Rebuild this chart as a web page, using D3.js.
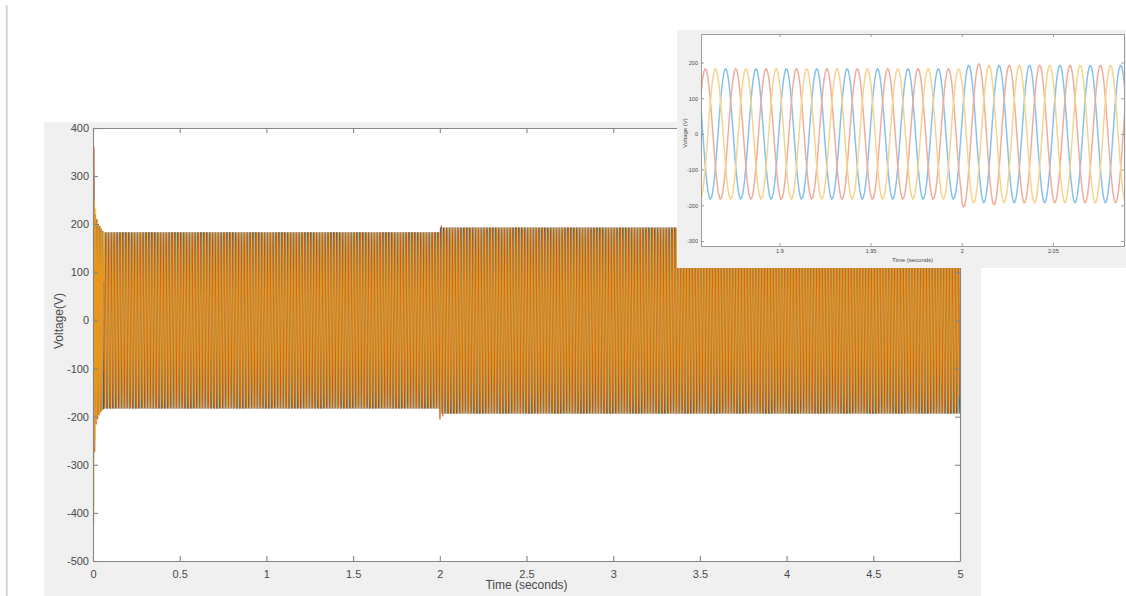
<!DOCTYPE html>
<html><head><meta charset="utf-8">
<script src="https://cdn.jsdelivr.net/npm/d3@7"></script>
<style>
body{margin:0;background:#fff;}
svg{display:block;font-family:"Liberation Sans",Arial,Helvetica,sans-serif;}
</style>
</head><body>
<svg id="chart" width="1126" height="596"></svg>
<script>
// ---------------- data ----------------
const seriesNames = ["Phase A", "Phase B", "Phase C"];
const frequencyHz = 60;
const phasePeakTime = 1.8705;          // a peak of phase A seen in the zoom
const phaseLagDeg = [0, 120, 240];
const amplitudeStartTimes = [0, 2];
const amplitudeValues = [183, 193];
const startupEndTime = 0.062;
const startupTimesA = [0,0.004,0.0085,0.0125,0.017,0.021,0.0255,0.0295,0.034,0.038,0.0425,0.0465,0.051,0.055,0.059];
const startupValuesA = [0,300,-170,215,-200,208,-198,200,-195,195,-190,190,-186,186,-184];
const startupTimesB = [0,0.0055,0.010,0.014,0.0185,0.0225,0.027,0.031,0.0355,0.0395,0.044,0.048,0.0525,0.0565];
const startupValuesB = [0,360,-273,220,-215,210,-205,200,-196,195,-190,189,-186,185];
const startupTimesC = [0,0.0045,0.0085,0.012,0.0155,0.020,0.024,0.0285,0.0325,0.037,0.041,0.0455,0.0495,0.054,0.058];
const startupValuesC = [0,-425,250,-250,232,-210,205,-200,198,-195,193,-190,188,-185,184];
const stepPeakTimesB = [2.0011, 2.0094, 2.0178];
const stepPeakValuesB = [-205, 197, -199];
const mainTimeTicks = [0,0.5,1,1.5,2,2.5,3,3.5,4,4.5,5];
const mainVoltTicks = [400,300,200,100,0,-100,-200,-300,-400,-500];
const insetTimeTicks = [1.9,1.95,2,2.05];
const insetVoltTicks = [200,100,0,-100,-200,-300];
const mainTimeDomain = [0,5];
const mainVoltDomain = [-500,400];
const insetTimeDomain = [1.857,2.089];
const insetVoltDomain = [-314,280];

// ---------------- build series ----------------
const startupT = [startupTimesA, startupTimesB, startupTimesC];
const startupV = [startupValuesA, startupValuesB, startupValuesC];
function amplitudeAt(t){
  let a = amplitudeValues[0];
  amplitudeStartTimes.forEach((s,i)=>{ if (t >= s) a = amplitudeValues[i]; });
  return a;
}
const samplesPerCycle = 24;
const dt = 1/(frequencyHz*samplesPerCycle);
const series = seriesNames.map((name, p) => {
  const pts = startupT[p].map((t,i)=>({t, v: startupV[p][i]}));
  for (let t = startupEndTime; t <= mainTimeDomain[1] + 1e-9; t += dt) {
    let a = amplitudeAt(t);
    if (p === 1 && t >= 2 && t < 2.022) {
      let best = 0;
      stepPeakTimesB.forEach((pt,i)=>{ if (Math.abs(t-pt) < Math.abs(t-stepPeakTimesB[best])) best = i; });
      a = Math.abs(stepPeakValuesB[best]);
    }
    const th = 2*Math.PI*frequencyHz*(t - phasePeakTime) - phaseLagDeg[p]*Math.PI/180;
    pts.push({t, v: a*Math.cos(th)});
  }
  return {name, pts};
});

// ---------------- drawing ----------------
const svg = d3.select("#chart");
svg.append("rect").attr("width",1126).attr("height",596).attr("fill","#fff");
svg.append("line").attr("x1",6.7).attr("x2",6.7).attr("y1",5).attr("y2",596)
  .attr("stroke","#cccccc").attr("stroke-width",1.6);

const axisColor = "#858585", textColor = "#4a4a4a";

function drawPanel(cfg){
  const g = svg.append("g");
  g.append("rect").attr("x",cfg.panel[0]).attr("y",cfg.panel[1]).attr("width",cfg.panel[2]).attr("height",cfg.panel[3]).attr("fill","#f0f0f0");
  const x = d3.scaleLinear().domain(cfg.xDomain).range([cfg.left, cfg.right]);
  const y = d3.scaleLinear().domain(cfg.yDomain).range([cfg.bottom, cfg.top]);
  g.append("rect").attr("x",cfg.left).attr("y",cfg.top).attr("width",cfg.right-cfg.left).attr("height",cfg.bottom-cfg.top).attr("fill","#fff");
  const clipId = "clip"+cfg.id;
  g.append("clipPath").attr("id",clipId).append("rect")
    .attr("x",cfg.left).attr("y",cfg.top).attr("width",cfg.right-cfg.left).attr("height",cfg.bottom-cfg.top);
  const line = d3.line().x(d=>x(d.t)).y(d=>y(d.v));
  const lg = g.append("g").attr("clip-path",`url(#${clipId})`);
  series.forEach((s,i)=>{
    const pts = s.pts.filter(d => d.t >= cfg.xDomain[0]-0.01 && d.t <= cfg.xDomain[1]+0.01);
    lg.append("path").datum(pts).attr("d",line).attr("fill","none")
      .attr("stroke",cfg.colors[i]).attr("stroke-width",cfg.lineWidth).attr("stroke-opacity",cfg.opacity[i])
      .attr("stroke-linejoin","round");
  });
  const ts = cfg.tick;
  const ax = [
    {gen:d3.axisBottom(x).tickValues(cfg.xTicks).tickFormat(d=>String(d)).tickSizeInner(-ts).tickSizeOuter(0).tickPadding(cfg.xPad), tr:`translate(0,${cfg.bottom})`},
    {gen:d3.axisTop(x).tickValues(cfg.xTicks).tickFormat("").tickSizeInner(-ts).tickSizeOuter(0), tr:`translate(0,${cfg.top})`},
    {gen:d3.axisLeft(y).tickValues(cfg.yTicks).tickFormat(d=>String(d)).tickSizeInner(-ts).tickSizeOuter(0).tickPadding(cfg.yPad), tr:`translate(${cfg.left},0)`},
    {gen:d3.axisRight(y).tickValues(cfg.yTicks).tickFormat("").tickSizeInner(-ts).tickSizeOuter(0), tr:`translate(${cfg.right},0)`}
  ];
  ax.forEach(a=>{
    const ag = g.append("g").attr("transform",a.tr).call(a.gen);
    ag.select(".domain").attr("stroke",axisColor).attr("stroke-width",cfg.axisWidth);
    ag.selectAll(".tick line").attr("stroke",axisColor).attr("stroke-width",cfg.axisWidth);
    ag.selectAll(".tick text").attr("fill",textColor).attr("font-size",cfg.fontSize)
      .attr("font-family","'Liberation Sans',Arial,sans-serif");
  });
  g.append("text").attr("x",(cfg.left+cfg.right)/2).attr("y",cfg.xLabelY).attr("text-anchor","middle")
    .attr("font-size",cfg.labelSize).attr("fill",textColor).text("Time (seconds)");
  g.append("text").attr("transform",`translate(${cfg.yLabelX},${cfg.yLabelY}) rotate(-90)`).attr("text-anchor","middle")
    .attr("font-size",cfg.labelSize).attr("fill",textColor).text(cfg.yLabel);
}

drawPanel({id:"main", panel:[44,122,937,474], left:93, right:960, top:128, bottom:561,
  xDomain:mainTimeDomain, yDomain:mainVoltDomain, xTicks:mainTimeTicks, yTicks:mainVoltTicks,
  colors:["#0072BD","#D95319","#EDB120"], lineWidth:1.1, opacity:[1,1,0.72], tick:5, axisWidth:1.1,
  fontSize:11, labelSize:12, xPad:9, yPad:4, xLabelY:589, yLabelX:62.5, yLabelY:321, yLabel:"Voltage(V)"});

drawPanel({id:"inset", panel:[677,30,449,238], left:701, right:1124, top:34, bottom:246,
  xDomain:insetTimeDomain, yDomain:insetVoltDomain, xTicks:insetTimeTicks, yTicks:insetVoltTicks,
  colors:["#86c2ec","#f1ad9b","#f6d48d"], lineWidth:1.5, opacity:[1,1,1], tick:3, axisWidth:0.8,
  fontSize:5.5, labelSize:6, xPad:3, yPad:3, xLabelY:262, yLabelX:687, yLabelY:133, yLabel:"Voltage (V)"});
</script>
</body></html>
